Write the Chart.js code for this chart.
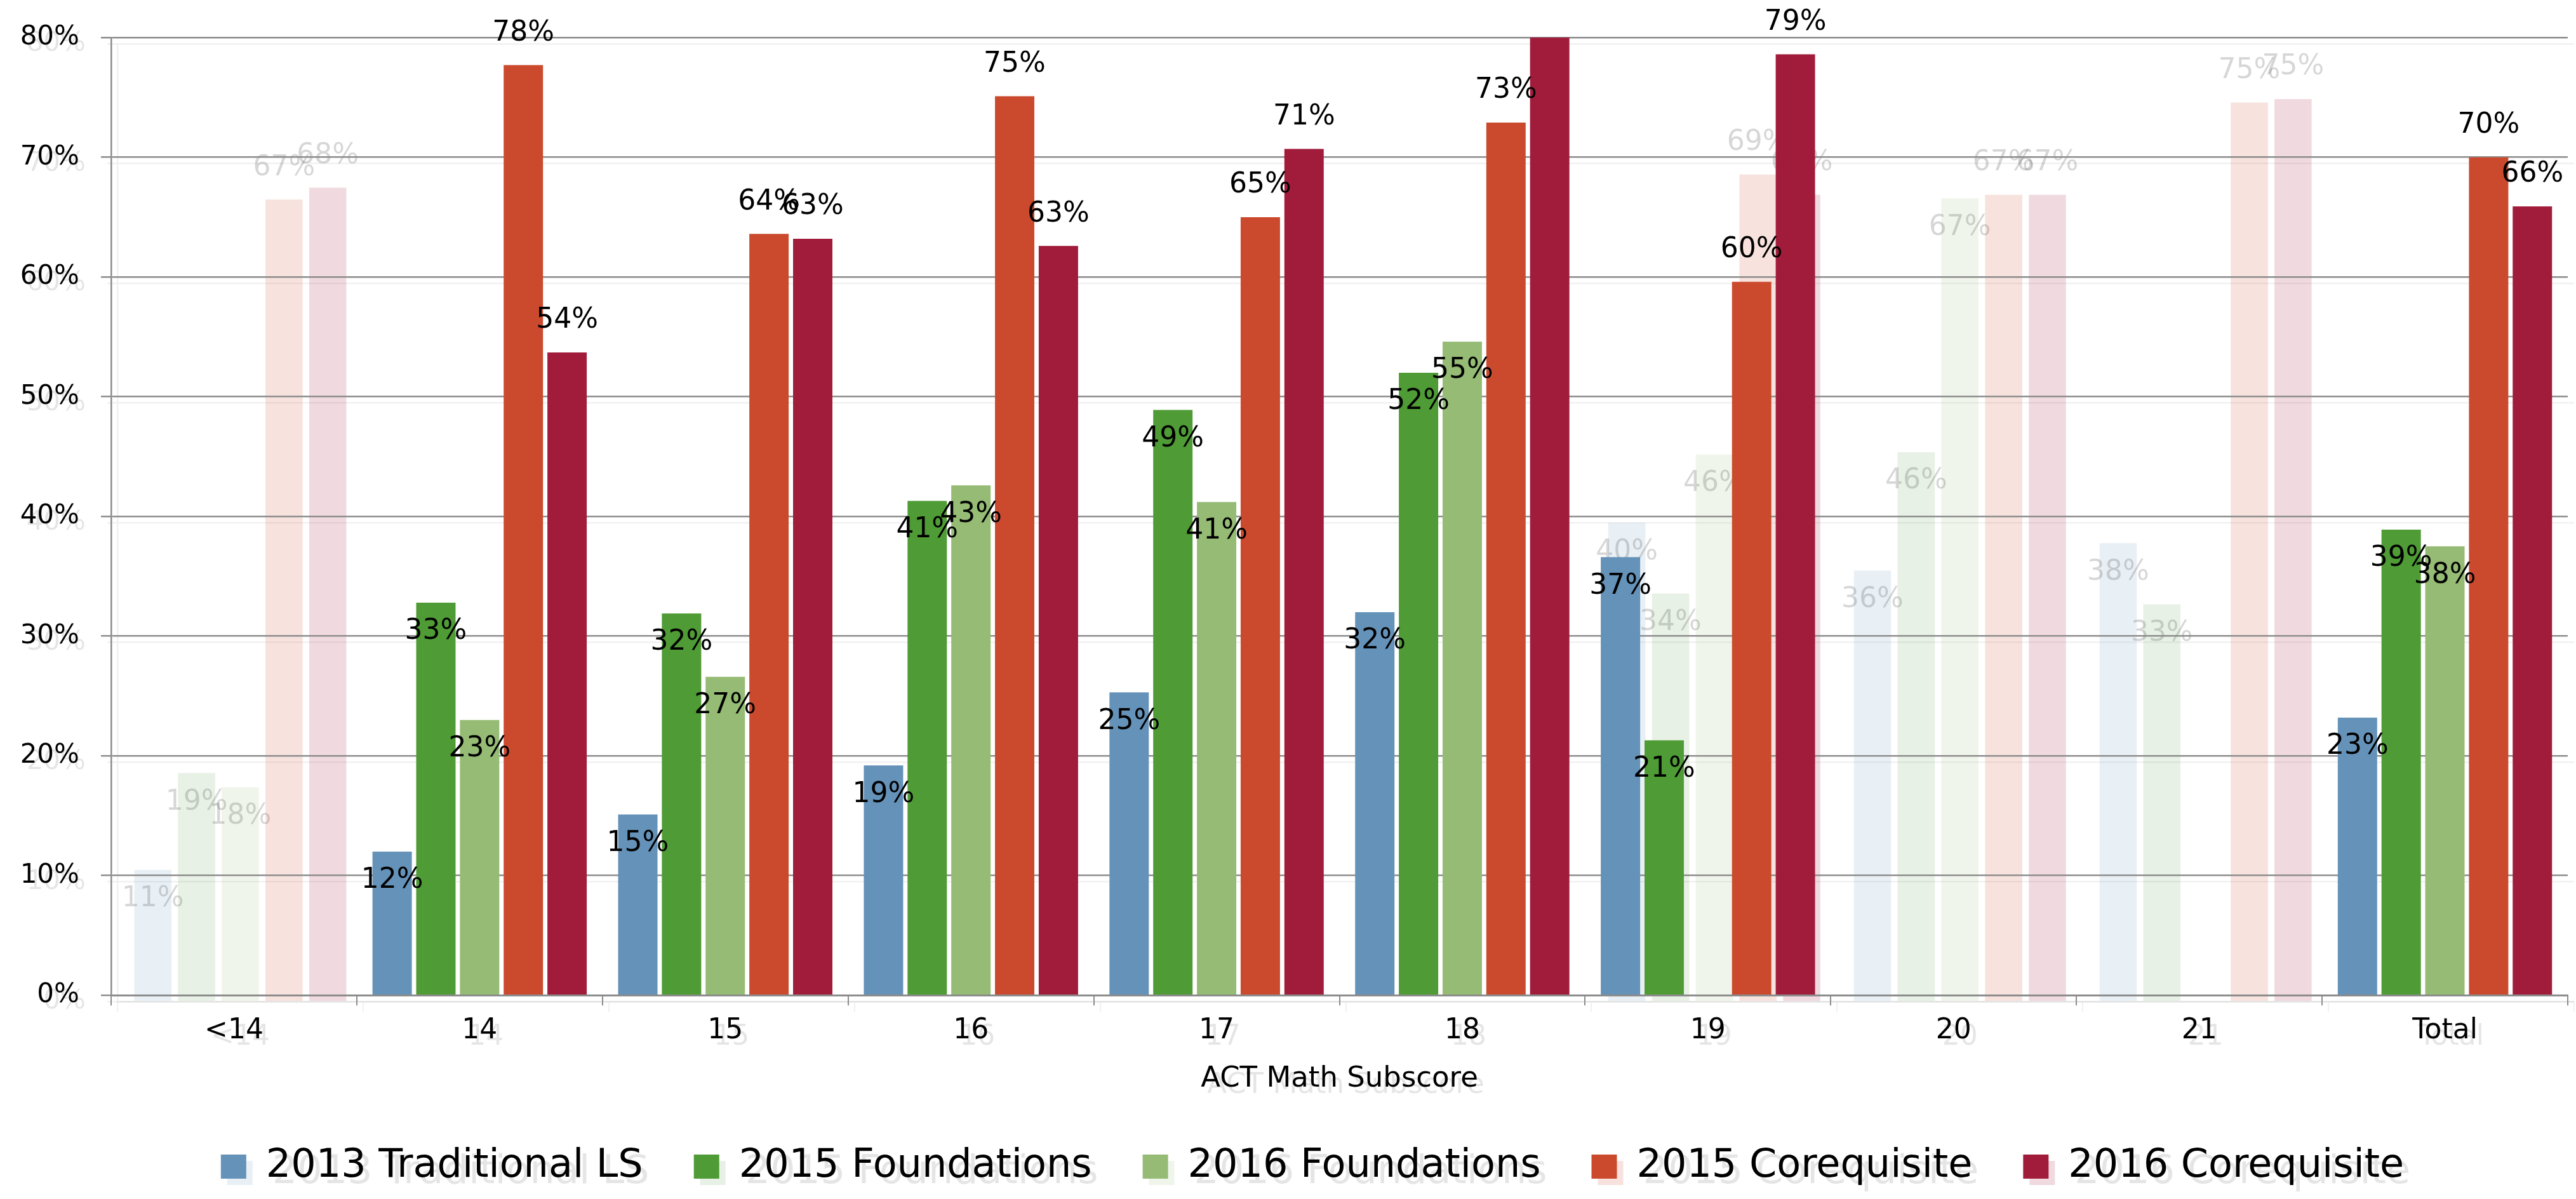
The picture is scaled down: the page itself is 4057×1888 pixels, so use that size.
<!DOCTYPE html>
<html>
<head>
<meta charset="utf-8">
<title>ACT Math Subscore</title>
<script src="https://cdn.jsdelivr.net/npm/chart.js@4"></script>
<style>
    body { margin: 0; background: #fff; }
    #wrap { position: relative; width: 4057px; height: 1888px; overflow: hidden; }
    .layer { position: absolute; width: 4057px; height: 1888px; }
    #ghostLayer { left: 10px; top: 10px; }
    #mainLayer { left: 0; top: 0; }
</style>
</head>
<body>
<div id="wrap">
    <div class="layer" id="ghostLayer"><canvas id="ghostCanvas"></canvas></div>
    <div class="layer" id="mainLayer"><canvas id="actCanvas"></canvas></div>
</div>
<script>
const categories = ['<14', '14', '15', '16', '17', '18', '19', '20', '21', 'Total'];
const seriesNames = ['2013 Traditional LS', '2015 Foundations', '2016 Foundations', '2015 Corequisite', '2016 Corequisite'];

const traditional2013 = [null, 12.0, 15.1, 19.2, 25.3, 32.0, 36.6, null, null, 23.2];
const foundations2015 = [null, 32.8, 31.9, 41.3, 48.9, 52.0, 21.3, null, null, 38.9];
const foundations2016 = [null, 23.0, 26.6, 42.6, 41.2, 54.6, null, null, null, 37.5];
const corequisite2015 = [null, 77.7, 63.6, 75.1, 65.0, 72.9, 59.6, null, null, 70.0];
const corequisite2016 = [null, 53.7, 63.2, 62.6, 70.7, 83.0, 78.6, null, null, 65.9];

// faded bars of the previous slide that still show through
const ghostTraditional = [11.0, null, null, null, null, null, 40.0, 36.0, 38.3, null];
const ghostFound2015 = [19.1, null, null, null, null, null, 34.1, 45.9, 33.2, null];
const ghostFound2016 = [17.9, null, null, null, null, null, 45.7, 67.1, null, null];
const ghostCoreq2015 = [67.0, null, null, null, null, null, 69.1, 67.4, 75.1, null];
const ghostCoreq2016 = [68.0, null, null, null, null, null, 67.4, 67.4, 75.4, null];

const yTicks = [0, 10, 20, 30, 40, 50, 60, 70, 80];

const colors = ['#6592b9', '#4f9b35', '#95bb74', '#cb4a2e', '#a11b3b'];
const ghostColors = ['rgba(101,146,185,0.14)', 'rgba(78,150,52,0.13)', 'rgba(149,187,116,0.14)',
                     'rgba(203,74,46,0.16)', 'rgba(161,27,59,0.16)'];

const FONT = 'DejaVu Sans';
let chart;
let ghostChart;

document.addEventListener('DOMContentLoaded', function() {
    ghostChart = new Chart(document.getElementById('ghostCanvas').getContext('2d'),
        makeConfig([ghostTraditional, ghostFound2015, ghostFound2016, ghostCoreq2015, ghostCoreq2016], true));
    chart = new Chart(document.getElementById('actCanvas').getContext('2d'),
        makeConfig([traditional2013, foundations2015, foundations2016, corequisite2015, corequisite2016], false));
});

const labelPlugin = {
    id: 'barLabels',
    afterLayout(c) {
        // legend sits a little right of the canvas centre in the original
        c.legend.left += 45;
        c.legend.right += 45;
    },
    afterDatasetsDraw(c) {
        const ghost = c.options.plugins.barLabels.ghost;
        const ctx = c.ctx;
        ctx.save();
        ctx.font = '44px "' + FONT + '"';
        ctx.textAlign = 'center';
        ctx.textBaseline = 'middle';
        ctx.fillStyle = ghost ? 'rgba(0,0,0,0.16)' : '#000';
        c.data.datasets.forEach(function(ds, i) {
            const above = i >= 3;
            c.getDatasetMeta(i).data.forEach(function(bar, k) {
                const v = ds.data[k];
                if (v === null || v > 80) return;
                const y = above ? bar.y - 50 : bar.y + 46;
                ctx.fillText(Math.round(v) + '%', bar.x, y);
            });
        });
        ctx.restore();
    }
};

function makeConfig(series, ghost) {
    const ink = ghost ? 'rgba(0,0,0,0.10)' : '#000';
    const line = ghost ? 'rgba(140,140,140,0.12)' : '#8c8c8c';
    const datasets = series.map(function(d, i) {
        return {
            label: seriesNames[i],
            data: d,
            backgroundColor: ghost ? ghostColors[i] : colors[i],
            borderWidth: 0,
            categoryPercentage: 0.89,
            barPercentage: ghost ? 0.85 : 0.9
        };
    });

    return {
        type: 'bar',
        data: { labels: categories, datasets: datasets },
        plugins: [labelPlugin],
        options: {
            responsive: true,
            maintainAspectRatio: false,
            devicePixelRatio: 1,
            animation: false,
            layout: { padding: { top: 42, right: 13, left: 0, bottom: 10 } },
            scales: {
                x: {
                    offset: true,
                    grid: { drawOnChartArea: false, color: line, lineWidth: 2, tickLength: 16, offset: true },
                    border: { color: line, width: 3 },
                    ticks: { color: ink, font: { family: FONT, size: 44 }, padding: 14 },
                    title: { display: true, text: 'ACT Math Subscore', color: ink,
                             font: { family: FONT, size: 45 }, padding: { top: 8, bottom: 0 } }
                },
                y: {
                    min: 0,
                    max: 80,
                    afterFit: function(scale) { scale.width = 175; },
                    afterBuildTicks: function(scale) { scale.ticks = yTicks.map(v => ({ value: v })); },
                    grid: { color: line, lineWidth: 2.5, tickLength: 16 },
                    border: { color: line, width: 2.5 },
                    ticks: { color: ink, font: { family: FONT, size: 42 }, padding: 34,
                             callback: v => v + '%' }
                }
            },
            plugins: {
                barLabels: { ghost: ghost },
                legend: {
                    position: 'bottom',
                    labels: {
                        color: ink,
                        font: { family: FONT, size: 62 },
                        boxWidth: 40,
                        boxHeight: 38,
                        padding: 80
                    }
                },
                tooltip: { enabled: false }
            }
        }
    };
}
</script>
</body>
</html>
